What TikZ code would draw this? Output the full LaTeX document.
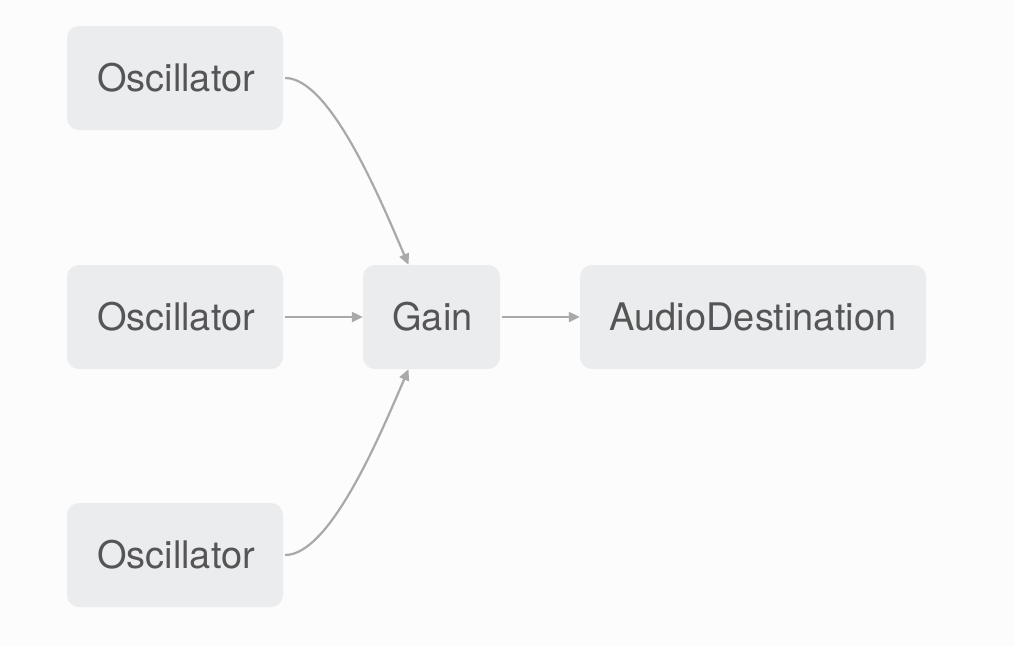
\documentclass[tikz,border=0pt]{standalone}
\usepackage{fontspec}
\setmainfont{TeX Gyre Heros}
\usetikzlibrary{arrows.meta,calc}
\definecolor{bgc}{HTML}{FCFCFC}
\definecolor{nodefill}{HTML}{EBECEE}
\definecolor{txt}{HTML}{555555}
\definecolor{edge}{HTML}{A9A9A9}
\begin{document}
\begin{tikzpicture}[x=1pt,y=-1pt,
  box/.style={rectangle,rounded corners=12pt,fill=nodefill,text=txt,
    minimum height=104pt,inner sep=0pt,font=\fontsize{38}{40}\selectfont},
  conn/.style={draw=edge,line width=2.2pt,-{Triangle[length=11pt,width=10pt]}}]
\fill[bgc] (0,0) rectangle (1014,646);
\useasboundingbox (0,0) rectangle (1014,646);
\node[box,minimum width=216pt] (o1) at (175,78) {\hspace{2pt}Oscillator};
\node[box,minimum width=216pt] (o2) at (175,317) {\hspace{2pt}Oscillator};
\node[box,minimum width=216pt] (o3) at (175,555) {\hspace{2pt}Oscillator};
\node[box,minimum width=137pt] (gain) at (431.5,317) {\hspace{2pt}Gain};
\node[box,minimum width=346pt] (dest) at (753,317) {AudioDestination};
\draw[conn] ($(o1.east)+(2,0)$) .. controls +(45,0) and +(-28,-65) .. ($(gain.north)+(-23,0)$);
\draw[conn] ($(o3.east)+(2,0)$) .. controls +(45,0) and +(-28,65) .. ($(gain.south)+(-23,0)$);
\draw[conn] ($(o2.east)+(2,0)$) -- (gain.west);
\draw[conn] ($(gain.east)+(2,0)$) -- (dest.west);
\end{tikzpicture}
\end{document}
